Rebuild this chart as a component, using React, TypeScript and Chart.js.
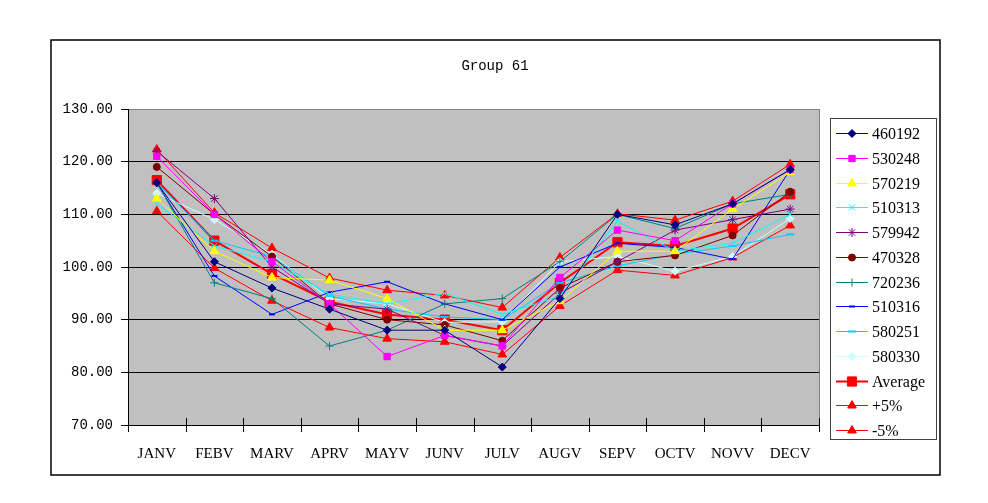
import { useEffect, useRef } from "react";
import { Chart, registerables } from "chart.js";
import { drawPoint } from "chart.js/helpers";

Chart.register(...registerables);

// Months on the category axis
const months = ["JANV", "FEBV", "MARV", "APRV", "MAYV", "JUNV", "JULV", "AUGV", "SEPV", "OCTV", "NOVV", "DECV"];

// Values
const s460192 = [116, 101, 96, 92, 88, 88, 81, 94, 110, 108, 112, 118.5];
const s530248 = [121, 110, 101, 93, 83, 87, 85, 98, 107, 105, 112, 118.5];
const s570219 = [113, 103, 98, 97.5, 94, 88, 88, 93.5, 103, 103, 111, 118];
const s510313 = [112, 104, 101, 94.8, 93, 95, 91, 94.5, 108.7, 103, 104.5, 110];
const s579942 = [122, 113, 100, 93, 92, 87, 85, 95, 101, 107, 109, 111];
const s470328 = [119, 110, 102, 93, 90, 89, 86, 96, 101, 102.2, 106, 114.3];
const s720236 = [116, 97, 94, 85, 88, 93, 94, 101, 110, 107.3, 112, 113.8];
const s510316 = [116, 98.3, 91, 95.2, 97.2, 93, 90, 100, 104.5, 103.7, 101.5, 118.5];
const s580251 = [116, 105, 102, 94.5, 92, 90.5, 90, 97, 100.2, 102.4, 104, 106.2];
const s580330 = [114, 109, 102.4, 94, 93, 89.5, 89.6, 101, 102, 99.2, 102, 109.2];
const average = [116.5, 105, 98.7, 93.4, 91, 90, 88, 97, 104.7, 104, 107.3, 113.8];
const plus5 = [122.3, 110.3, 103.6, 97.9, 95.6, 94.6, 92.3, 101.8, 110.1, 108.9, 112.5, 119.5];
const minus5 = [110.6, 99.8, 93.6, 88.5, 86.4, 85.8, 83.4, 92.6, 99.4, 98.4, 101.8, 107.9];

const yTicks = [70, 80, 90, 100, 110, 120, 130];

type SeriesDef = {
  label: string;
  data: number[];
  color: string;
  style: string;
  radius: number;
  width?: number;
  markerWidth?: number;
};

const series: SeriesDef[] = [
  { label: "460192", data: s460192, color: "#000080", style: "rectRot", radius: 4 },
  { label: "530248", data: s530248, color: "#FF00FF", style: "rect", radius: 4.5 },
  { label: "570219", data: s570219, color: "#FFFF00", style: "triangle", radius: 5 },
  { label: "510313", data: s510313, color: "#00FFFF", style: "crossRot", radius: 4 },
  { label: "579942", data: s579942, color: "#800080", style: "star", radius: 4.5 },
  { label: "470328", data: s470328, color: "#800000", style: "circle", radius: 3.5 },
  { label: "720236", data: s720236, color: "#008080", style: "cross", radius: 4 },
  { label: "510316", data: s510316, color: "#0000FF", style: "line", radius: 3, markerWidth: 2 },
  { label: "580251", data: s580251, color: "#00CCFF", style: "line", radius: 4, markerWidth: 2 },
  { label: "580330", data: s580330, color: "#CCFFFF", style: "rectRot", radius: 4 },
  { label: "Average", data: average, color: "#FF0000", style: "rect", radius: 6.5, width: 2 },
  { label: "+5%", data: plus5, color: "#FF0000", style: "triangle", radius: 5 },
  { label: "-5%", data: minus5, color: "#FF0000", style: "triangle", radius: 5 },
];

const decor = {
  id: "decor",
  beforeDraw(chart: any) {
    const { ctx, chartArea: a } = chart;
    ctx.save();
    ctx.fillStyle = "#C0C0C0";
    ctx.fillRect(a.left, a.top, a.right - a.left, a.bottom - a.top);
    ctx.restore();
  },
  beforeDatasetsDraw(chart: any) {
    const { ctx, chartArea: a } = chart;
    const x = chart.scales.x;
    ctx.save();
    // grey right edge of the plot
    ctx.strokeStyle = "#808080";
    ctx.lineWidth = 1;
    ctx.beginPath();
    ctx.moveTo(a.right + 0.5, a.top);
    ctx.lineTo(a.right + 0.5, a.bottom);
    ctx.stroke();
    // cross tick marks between categories
    ctx.strokeStyle = "#000";
    const step = (x.right - x.left) / months.length;
    for (let i = 0; i <= months.length; i++) {
      const px = Math.round(x.left + i * step) + 0.5;
      ctx.beginPath();
      ctx.moveTo(px, a.bottom - 7);
      ctx.lineTo(px, a.bottom + 7);
      ctx.stroke();
    }
    ctx.restore();
  },
  afterDraw(chart: any) {
    const { ctx } = chart;
    ctx.save();
    // outer frame
    ctx.strokeStyle = "#000";
    ctx.lineWidth = 1.5;
    ctx.strokeRect(51, 40, 889, 435);
    // title
    ctx.fillStyle = "#000";
    ctx.font = "14px 'Liberation Mono'";
    ctx.textAlign = "center";
    ctx.textBaseline = "middle";
    ctx.fillText("Group 61", 495, 66);
    // legend
    ctx.fillStyle = "#fff";
    ctx.fillRect(830, 118, 107, 322);
    ctx.strokeStyle = "#404040";
    ctx.lineWidth = 1;
    ctx.strokeRect(830.5, 118.5, 106, 321);
    ctx.font = "16px 'Liberation Serif'";
    ctx.textAlign = "left";
    series.forEach((s, i) => {
      const y = Math.round(133 + i * 24.75) + 0.5;
      ctx.strokeStyle = s.color;
      ctx.lineWidth = s.width || 1;
      ctx.beginPath();
      ctx.moveTo(836, y);
      ctx.lineTo(868, y);
      ctx.stroke();
      ctx.fillStyle = s.color;
      ctx.lineWidth = s.markerWidth || 1;
      drawPoint(ctx, { pointStyle: s.style as any, radius: s.radius, rotation: 0, borderWidth: s.markerWidth || 1 }, 852, y);
      ctx.fillStyle = "#000";
      ctx.fillText(s.label, 872, y + 1);
    });
    ctx.restore();
  },
};

export default function App() {
  const canvasRef = useRef<HTMLCanvasElement>(null);

  useEffect(() => {
    document.body.style.margin = "0";
    if (!canvasRef.current) return;

    const chart = new Chart(canvasRef.current, {
      type: "line",
      data: {
        labels: months,
        datasets: series.map((s) => ({
          label: s.label,
          data: s.data,
          borderColor: s.color,
          backgroundColor: s.color,
          borderWidth: s.width || 1,
          pointStyle: s.style as any,
          pointRadius: s.radius,
          pointBorderWidth: s.markerWidth || 1,
          pointBorderColor: s.color,
          pointBackgroundColor: s.color,
          tension: 0,
          fill: false,
        })),
      },
      options: {
        responsive: false,
        animation: false,
        devicePixelRatio: 1,
        layout: { padding: { left: 50, top: 109, right: 169, bottom: 18 } },
        plugins: {
          legend: { display: false },
          title: { display: false },
          tooltip: { enabled: false },
        },
        scales: {
          x: {
            offset: true,
            afterFit: (scale: any) => {
              scale.height = 60;
            },
            grid: { display: false },
            border: { display: true, color: "#000", width: 1 },
            ticks: {
              color: "#000",
              padding: 12,
              maxRotation: 0,
              autoSkip: false,
              font: { family: "'Liberation Serif'", size: 15 },
            },
          },
          y: {
            min: yTicks[0],
            max: yTicks[yTicks.length - 1],
            afterFit: (scale: any) => {
              scale.width = 78;
            },
            afterBuildTicks: (scale: any) => {
              scale.ticks = yTicks.map((v) => ({ value: v }));
            },
            grid: {
              color: (c: any) => (c.tick && c.tick.value === 130 ? "#808080" : "#000"),
              tickColor: "#000",
              tickLength: 7,
              lineWidth: 1,
            },
            border: { display: true, color: "#000", width: 1 },
            ticks: {
              color: "#000",
              padding: 8,
              font: { family: "'Liberation Mono'", size: 14 },
              callback: (v: any) => Number(v).toFixed(2),
            },
          },
        },
      },
      plugins: [decor],
    });

    return () => {
      chart.destroy();
    };
  }, []);

  return (
    <div style={{ width: 988, height: 503, background: "#fff" }}>
      <canvas ref={canvasRef} width={988} height={503}></canvas>
    </div>
  );
}
